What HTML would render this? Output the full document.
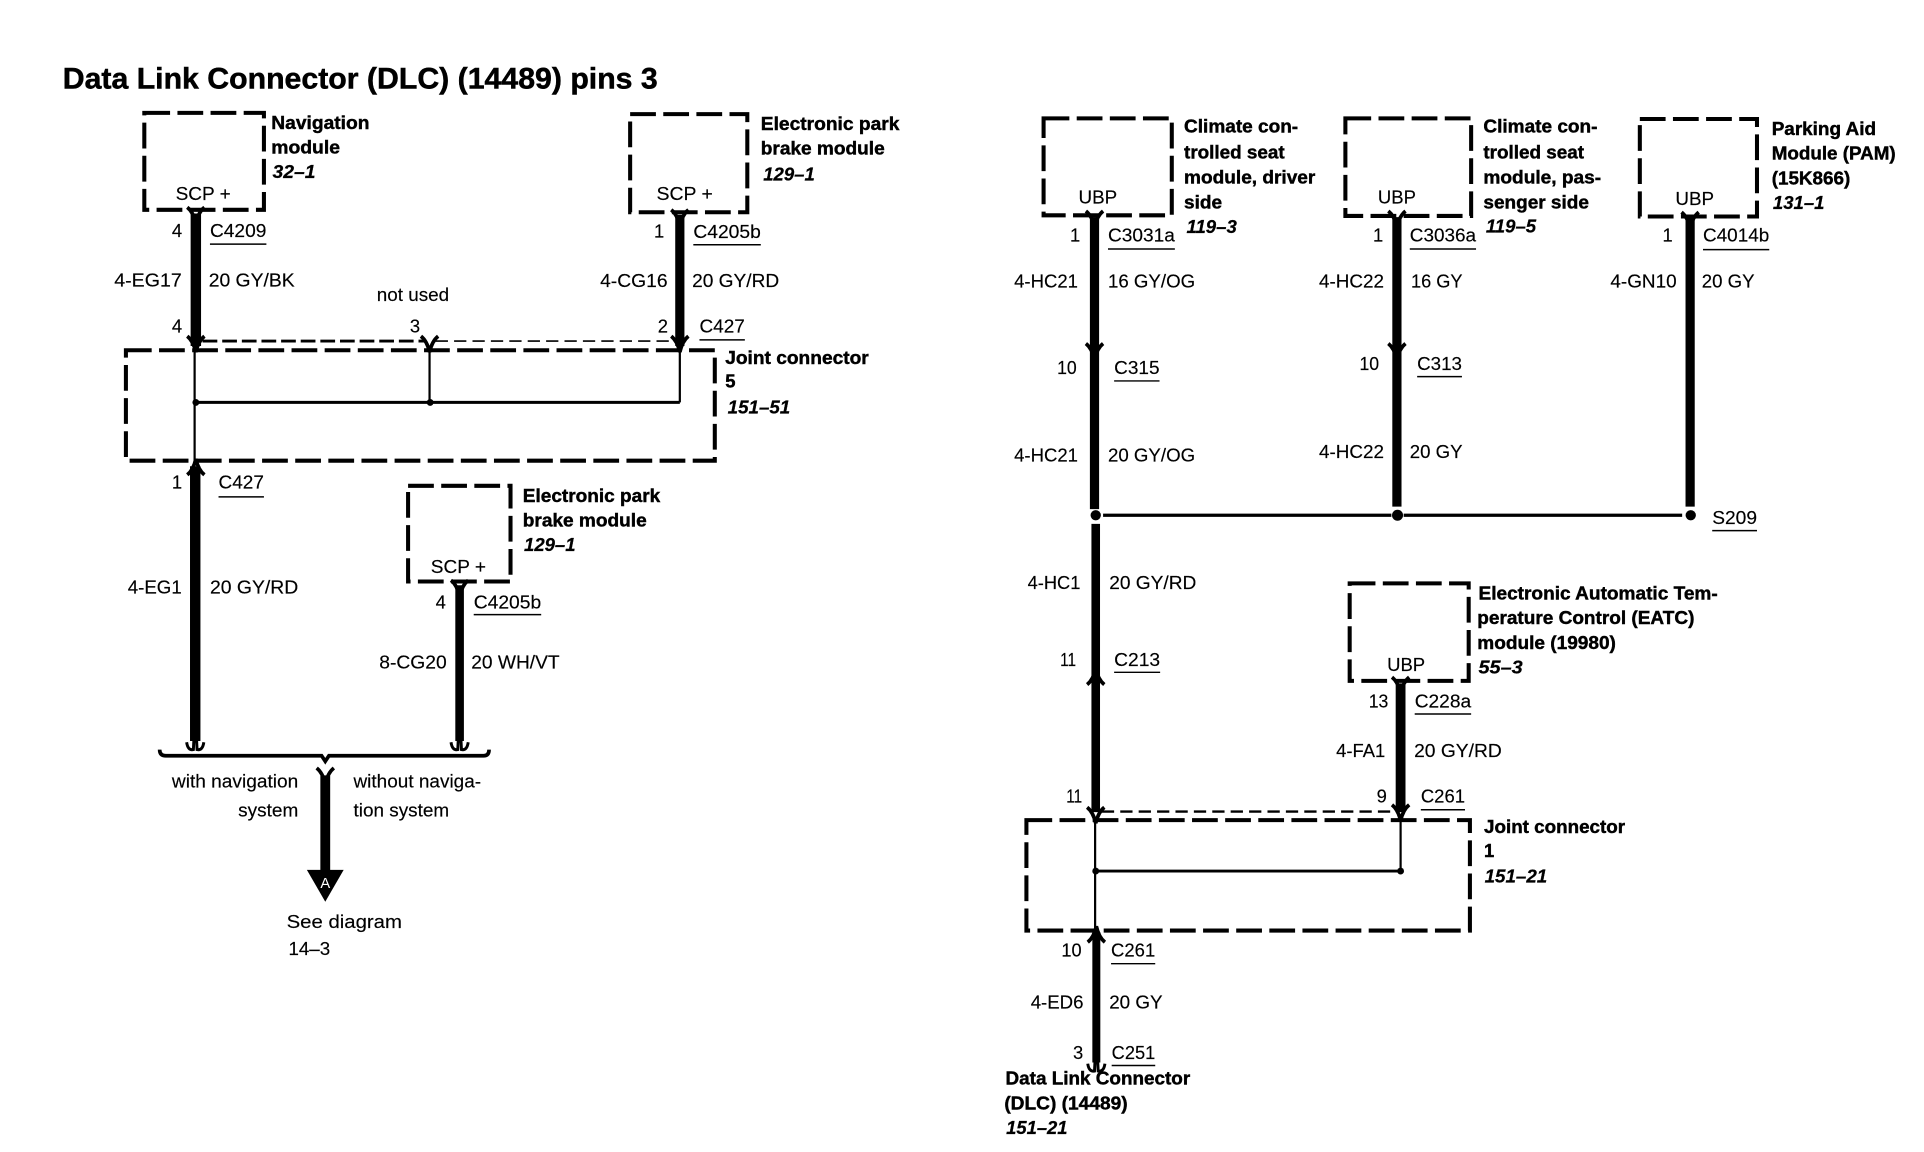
<!DOCTYPE html>
<html><head><meta charset="utf-8"><style>
html,body{margin:0;padding:0;background:#fff}
svg{display:block}
text{font-family:"Liberation Sans",sans-serif;font-size:15px;fill:#000;stroke:#000;stroke-width:.12}
.b{font-weight:bold;stroke-width:.35}
.i{font-weight:bold;font-style:italic;stroke-width:.2}
.t{font-weight:bold;font-size:24.5px;stroke-width:.4}
.box{fill:none;stroke:#000;stroke-width:3.3;stroke-dasharray:21 6}
.w{stroke:#000;fill:none}
.u{stroke:#000;stroke-width:1.2}
</style></head><body>
<svg xmlns="http://www.w3.org/2000/svg" width="1924" height="1152" viewBox="0 0 1568 939">
<defs>
<path id="d" d="M-7,-8 Q-2,-4 0,5 Q2,-4 7,-8" fill="none" stroke="#000" stroke-width="3"/>
<path id="f" d="M-7,8 Q-2,4 0,-5 Q2,4 7,8" fill="none" stroke="#000" stroke-width="3"/>
<path id="e" d="M-7,1 Q-6,8 -1.5,7 L-1,-3 M7,1 Q6,8 1.5,7 L1,-3" fill="none" stroke="#000" stroke-width="2.4"/>
</defs>

<!-- title -->
<text class="t" x="51" y="72" textLength="485" lengthAdjust="spacingAndGlyphs">Data Link Connector (DLC) (14489) pins 3</text>

<!-- boxes -->
<rect class="box" x="117.5" y="92" width="97.5" height="79"/>
<rect class="box" x="513.5" y="93" width="95.5" height="80"/>
<rect class="box" x="102.5" y="285.5" width="480" height="90"/>
<rect class="box" x="332.5" y="396" width="83.5" height="78"/>
<rect class="box" x="850.5" y="96.5" width="104.5" height="79"/>
<rect class="box" x="1096.5" y="96.5" width="102.5" height="79.5"/>
<rect class="box" x="1336.5" y="97" width="95.5" height="79.5"/>
<rect class="box" x="1100" y="475.5" width="97" height="79.5"/>
<rect class="box" x="836.5" y="668.5" width="361.5" height="90"/>

<!-- thick wires left -->
<path class="w" stroke-width="8.5" d="M159.5,174V282"/>
<path class="w" stroke-width="7.5" d="M554,175V282"/>
<path class="w" stroke-width="8.5" d="M159,380V604"/>
<path class="w" stroke-width="7" d="M374.5,477V604"/>
<path class="w" stroke-width="8" d="M265,632V710"/>
<!-- joint 5 internals -->
<path class="w" stroke-width="1.8" d="M158.5,284V376"/>
<path class="w" stroke-width="1.8" d="M350,284V328"/>
<path class="w" stroke-width="1.8" d="M554,284V328"/>
<path class="w" stroke-width="2.4" d="M159,328H554"/>
<circle cx="159.5" cy="328" r="2.8"/><circle cx="350.5" cy="328" r="2.8"/>
<path class="w" stroke-width="2.4" stroke-dasharray="12 4" d="M165,278H346"/>
<path class="w" stroke-width="1.4" stroke-dasharray="10 5" d="M355,278H548"/>
<!-- forks left -->
<use href="#d" x="159.5" y="177"/><use href="#d" x="159.5" y="282"/>
<use href="#d" x="350" y="282"/>
<use href="#d" x="554" y="179"/><use href="#d" x="554" y="282"/>
<use href="#f" x="159.5" y="379"/>
<use href="#e" x="159" y="604"/><use href="#e" x="374.5" y="604"/>
<use href="#d" x="374.5" y="481"/>
<use href="#d" x="265" y="634"/>
<!-- brace -->
<path class="w" stroke-width="3" d="M130,611Q130,616 135,616H262L265,620.5L268,616H394Q398.5,616 398.5,611"/>
<!-- triangle -->
<path d="M250,709H280L265,735Z"/>
<text x="265" y="724" text-anchor="middle" style="fill:#fff;stroke:none;font-size:12px">A</text>

<!-- thick wires right -->
<path class="w" stroke-width="7.5" d="M892,177V415"/>
<path class="w" stroke-width="7.5" d="M1138.5,177V413"/>
<path class="w" stroke-width="7.5" d="M1377.5,178V413"/>
<path class="w" stroke-width="7" d="M893,427V662"/>
<path class="w" stroke-width="8" d="M1141.5,557V662"/>
<path class="w" stroke-width="6.5" d="M893.5,760V866"/>
<path class="w" stroke-width="2.6" d="M899,420H1134M1144,420H1371"/>
<circle cx="893" cy="420" r="4.2"/><circle cx="1139" cy="420" r="4.5"/><circle cx="1378" cy="420" r="4.2"/>
<!-- joint 1 internals -->
<path class="w" stroke-width="1.8" d="M892.5,668V760"/>
<path class="w" stroke-width="1.8" d="M1141.5,668V710"/>
<path class="w" stroke-width="2.4" d="M893,710H1141"/>
<circle cx="893" cy="710" r="2.8"/><circle cx="1141.5" cy="710" r="2.8"/>
<path class="w" stroke-width="2" stroke-dasharray="10 5" d="M898,661.5H1135"/>
<!-- forks right -->
<use href="#d" x="892" y="180"/><use href="#d" x="892" y="288"/>
<use href="#d" x="1138.5" y="180"/><use href="#d" x="1138.5" y="288"/>
<use href="#d" x="1377.5" y="181"/>
<use href="#f" x="893" y="550"/>
<use href="#d" x="893" y="666"/><use href="#d" x="1141.5" y="664"/>
<use href="#d" x="1141.5" y="560"/>
<use href="#f" x="893.5" y="760"/>
<use href="#e" x="893.5" y="866"/>

<!-- underlines -->
<g class="u">
<path d="M171,199H217M565,199.5H620M570,277H607M178,405H215M386,501H441"/>
<path d="M903,203H957.5M908,310.5H945M1149,203H1203M1155,307H1191.5M1388,203.5H1442M1395.5,432.5H1432"/>
<path d="M908,548H945.5M1153,582H1199M1158,660H1194M905.5,785.5H941.5M906,868.5H941.5"/>
</g>

<!-- left labels bold -->
<text class="b" x="221" y="105" textLength="80" lengthAdjust="spacingAndGlyphs">Navigation</text>
<text class="b" x="221" y="125" textLength="56" lengthAdjust="spacingAndGlyphs">module</text>
<text class="i" x="222" y="145" textLength="35" lengthAdjust="spacingAndGlyphs">32–1</text>
<text class="b" x="620" y="106" textLength="113" lengthAdjust="spacingAndGlyphs">Electronic park</text>
<text class="b" x="620" y="126" textLength="101" lengthAdjust="spacingAndGlyphs">brake module</text>
<text class="i" x="622" y="147" textLength="42" lengthAdjust="spacingAndGlyphs">129–1</text>
<text class="b" x="591" y="296.5" textLength="117" lengthAdjust="spacingAndGlyphs">Joint connector</text>
<text class="b" x="591" y="316">5</text>
<text class="i" x="593" y="337" textLength="51" lengthAdjust="spacingAndGlyphs">151–51</text>
<text class="b" x="426" y="409" textLength="112" lengthAdjust="spacingAndGlyphs">Electronic park</text>
<text class="b" x="426" y="429" textLength="101" lengthAdjust="spacingAndGlyphs">brake module</text>
<text class="i" x="427" y="449" textLength="42" lengthAdjust="spacingAndGlyphs">129–1</text>

<!-- left labels regular -->
<text x="143" y="163" textLength="45" lengthAdjust="spacingAndGlyphs">SCP +</text>
<text x="535" y="163" textLength="46" lengthAdjust="spacingAndGlyphs">SCP +</text>
<text x="351" y="467" textLength="45" lengthAdjust="spacingAndGlyphs">SCP +</text>
<text x="140" y="193">4</text>
<text x="171" y="193" textLength="46" lengthAdjust="spacingAndGlyphs">C4209</text>
<text x="533" y="193.5">1</text>
<text x="565" y="194" textLength="55" lengthAdjust="spacingAndGlyphs">C4205b</text>
<text x="93" y="233.5" textLength="55" lengthAdjust="spacingAndGlyphs">4-EG17</text>
<text x="170" y="233.5" textLength="70" lengthAdjust="spacingAndGlyphs">20 GY/BK</text>
<text x="489" y="234" textLength="55" lengthAdjust="spacingAndGlyphs">4-CG16</text>
<text x="564" y="234" textLength="71" lengthAdjust="spacingAndGlyphs">20 GY/RD</text>
<text x="307" y="245.5" textLength="59" lengthAdjust="spacingAndGlyphs">not used</text>
<text x="140" y="271">4</text>
<text x="334" y="271">3</text>
<text x="536" y="271">2</text>
<text x="570" y="271" textLength="37" lengthAdjust="spacingAndGlyphs">C427</text>
<text x="140" y="398">1</text>
<text x="178" y="398" textLength="37" lengthAdjust="spacingAndGlyphs">C427</text>
<text x="104" y="483.7" textLength="44" lengthAdjust="spacingAndGlyphs">4-EG1</text>
<text x="171" y="483.7" textLength="72" lengthAdjust="spacingAndGlyphs">20 GY/RD</text>
<text x="355" y="496">4</text>
<text x="386" y="496" textLength="55" lengthAdjust="spacingAndGlyphs">C4205b</text>
<text x="309" y="545" textLength="55" lengthAdjust="spacingAndGlyphs">8-CG20</text>
<text x="384" y="545" textLength="72" lengthAdjust="spacingAndGlyphs">20 WH/VT</text>
<text x="140" y="642" textLength="103" lengthAdjust="spacingAndGlyphs">with navigation</text>
<text x="194" y="665.7" textLength="49" lengthAdjust="spacingAndGlyphs">system</text>
<text x="288" y="642" textLength="104" lengthAdjust="spacingAndGlyphs">without naviga-</text>
<text x="288" y="665.7" textLength="78" lengthAdjust="spacingAndGlyphs">tion system</text>
<text x="233.5" y="756.5" textLength="94" lengthAdjust="spacingAndGlyphs">See diagram</text>
<text x="235" y="778.5" textLength="34" lengthAdjust="spacingAndGlyphs">14–3</text>

<!-- right labels bold -->
<text class="b" x="965" y="108" textLength="93" lengthAdjust="spacingAndGlyphs">Climate con-</text>
<text class="b" x="965" y="129" textLength="82" lengthAdjust="spacingAndGlyphs">trolled seat</text>
<text class="b" x="965" y="149.5" textLength="107" lengthAdjust="spacingAndGlyphs">module, driver</text>
<text class="b" x="965" y="170" textLength="31" lengthAdjust="spacingAndGlyphs">side</text>
<text class="i" x="967" y="190" textLength="41" lengthAdjust="spacingAndGlyphs">119–3</text>
<text class="b" x="1209" y="108" textLength="93" lengthAdjust="spacingAndGlyphs">Climate con-</text>
<text class="b" x="1209" y="129" textLength="82" lengthAdjust="spacingAndGlyphs">trolled seat</text>
<text class="b" x="1209" y="149.5" textLength="96" lengthAdjust="spacingAndGlyphs">module, pas-</text>
<text class="b" x="1209" y="170" textLength="86" lengthAdjust="spacingAndGlyphs">senger side</text>
<text class="i" x="1211" y="189.5" textLength="41" lengthAdjust="spacingAndGlyphs">119–5</text>
<text class="b" x="1444" y="110" textLength="85" lengthAdjust="spacingAndGlyphs">Parking Aid</text>
<text class="b" x="1444" y="130" textLength="101" lengthAdjust="spacingAndGlyphs">Module (PAM)</text>
<text class="b" x="1444" y="150.5" textLength="64" lengthAdjust="spacingAndGlyphs">(15K866)</text>
<text class="i" x="1445" y="170.5" textLength="42" lengthAdjust="spacingAndGlyphs">131–1</text>
<text class="b" x="1205" y="488.5" textLength="195" lengthAdjust="spacingAndGlyphs">Electronic Automatic Tem-</text>
<text class="b" x="1204" y="508.5" textLength="177" lengthAdjust="spacingAndGlyphs">perature Control (EATC)</text>
<text class="b" x="1204" y="529" textLength="113" lengthAdjust="spacingAndGlyphs">module (19980)</text>
<text class="i" x="1205" y="549" textLength="36" lengthAdjust="spacingAndGlyphs">55–3</text>
<text class="b" x="1209.5" y="679" textLength="115" lengthAdjust="spacingAndGlyphs">Joint connector</text>
<text class="b" x="1209.5" y="698.5">1</text>
<text class="i" x="1210" y="719.5" textLength="51" lengthAdjust="spacingAndGlyphs">151–21</text>
<text class="b" x="819.5" y="884" textLength="150.5" lengthAdjust="spacingAndGlyphs">Data Link Connector</text>
<text class="b" x="818.5" y="904.5" textLength="100.5" lengthAdjust="spacingAndGlyphs">(DLC) (14489)</text>
<text class="i" x="820" y="924.5" textLength="50" lengthAdjust="spacingAndGlyphs">151–21</text>

<!-- right labels regular -->
<text x="879" y="166" textLength="31.5" lengthAdjust="spacingAndGlyphs">UBP</text>
<text x="1123" y="166" textLength="31" lengthAdjust="spacingAndGlyphs">UBP</text>
<text x="1365.5" y="167" textLength="31.5" lengthAdjust="spacingAndGlyphs">UBP</text>
<text x="1130.5" y="547" textLength="31" lengthAdjust="spacingAndGlyphs">UBP</text>
<text x="872" y="197">1</text>
<text x="903" y="197" textLength="54.5" lengthAdjust="spacingAndGlyphs">C3031a</text>
<text x="826.5" y="234.5" textLength="52" lengthAdjust="spacingAndGlyphs">4-HC21</text>
<text x="903" y="234.5" textLength="71" lengthAdjust="spacingAndGlyphs">16 GY/OG</text>
<text x="861.5" y="305" textLength="16" lengthAdjust="spacingAndGlyphs">10</text>
<text x="908" y="305" textLength="37" lengthAdjust="spacingAndGlyphs">C315</text>
<text x="826.5" y="376" textLength="52" lengthAdjust="spacingAndGlyphs">4-HC21</text>
<text x="903" y="376" textLength="71" lengthAdjust="spacingAndGlyphs">20 GY/OG</text>
<text x="1119" y="197">1</text>
<text x="1149" y="197" textLength="54" lengthAdjust="spacingAndGlyphs">C3036a</text>
<text x="1075" y="234.5" textLength="53" lengthAdjust="spacingAndGlyphs">4-HC22</text>
<text x="1150" y="234.5" textLength="42" lengthAdjust="spacingAndGlyphs">16 GY</text>
<text x="1108" y="301.5" textLength="16" lengthAdjust="spacingAndGlyphs">10</text>
<text x="1155" y="301.5" textLength="36.5" lengthAdjust="spacingAndGlyphs">C313</text>
<text x="1075" y="373.5" textLength="53" lengthAdjust="spacingAndGlyphs">4-HC22</text>
<text x="1149" y="373.5" textLength="43" lengthAdjust="spacingAndGlyphs">20 GY</text>
<text x="1355" y="197">1</text>
<text x="1388" y="197" textLength="54" lengthAdjust="spacingAndGlyphs">C4014b</text>
<text x="1312.5" y="234.5" textLength="54" lengthAdjust="spacingAndGlyphs">4-GN10</text>
<text x="1387" y="234.5" textLength="43" lengthAdjust="spacingAndGlyphs">20 GY</text>
<text x="1395.5" y="427" textLength="36.5" lengthAdjust="spacingAndGlyphs">S209</text>
<text x="837.5" y="480" textLength="43" lengthAdjust="spacingAndGlyphs">4-HC1</text>
<text x="904" y="480" textLength="71" lengthAdjust="spacingAndGlyphs">20 GY/RD</text>
<text x="864" y="543" textLength="13" lengthAdjust="spacingAndGlyphs">11</text>
<text x="908" y="543" textLength="37.5" lengthAdjust="spacingAndGlyphs">C213</text>
<text x="1115.5" y="576.5" textLength="16" lengthAdjust="spacingAndGlyphs">13</text>
<text x="1153" y="576.5" textLength="46" lengthAdjust="spacingAndGlyphs">C228a</text>
<text x="1089" y="617" textLength="40" lengthAdjust="spacingAndGlyphs">4-FA1</text>
<text x="1152.5" y="617" textLength="71.5" lengthAdjust="spacingAndGlyphs">20 GY/RD</text>
<text x="869" y="654" textLength="13" lengthAdjust="spacingAndGlyphs">11</text>
<text x="1122" y="654">9</text>
<text x="1158" y="654" textLength="36" lengthAdjust="spacingAndGlyphs">C261</text>
<text x="865" y="779.5" textLength="16.5" lengthAdjust="spacingAndGlyphs">10</text>
<text x="905.5" y="779.5" textLength="36" lengthAdjust="spacingAndGlyphs">C261</text>
<text x="840" y="822" textLength="43" lengthAdjust="spacingAndGlyphs">4-ED6</text>
<text x="904" y="822" textLength="43.5" lengthAdjust="spacingAndGlyphs">20 GY</text>
<text x="874.5" y="863">3</text>
<text x="906" y="863" textLength="35.5" lengthAdjust="spacingAndGlyphs">C251</text>
</svg>
</body></html>
